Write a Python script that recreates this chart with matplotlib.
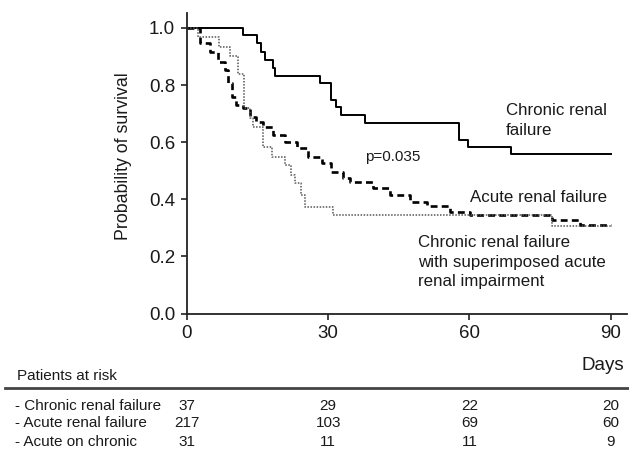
import matplotlib
matplotlib.use("Agg")
import matplotlib.pyplot as plt
from matplotlib.transforms import blended_transform_factory
from matplotlib.lines import Line2D

plt.rcParams['font.family'] = ['Liberation Sans', 'DejaVu Sans']

# ---- data ----
crf_t = [0, 12.0, 14.8, 15.7, 16.5, 18.2, 18.8, 28.2, 30.5, 31.6, 32.8, 37.8, 57.7, 59.8, 68.8, 90]
crf_s = [1.0, 0.975, 0.946, 0.917, 0.888, 0.859, 0.832, 0.806, 0.748, 0.722, 0.695, 0.666, 0.608, 0.582, 0.558, 0.558]

arf_t = [0, 2.7, 4.8, 6.6, 8.0, 8.8, 9.5, 10.5, 12.0, 13.3, 14.7, 16.1, 18.3, 20.8, 23.3, 25.8,
         28.6, 30.7, 33.2, 34.6, 39.6, 43.1, 47.4, 50.9, 55.9, 60.1, 77.6, 83.6, 90]
arf_s = [1.0, 0.946, 0.917, 0.882, 0.853, 0.806, 0.759, 0.730, 0.719, 0.689, 0.672, 0.654, 0.625, 0.602, 0.579, 0.549,
         0.526, 0.497, 0.474, 0.462, 0.438, 0.415, 0.392, 0.377, 0.357, 0.345, 0.327, 0.310, 0.310]

aoc_t = [0, 2.4, 6.9, 9.1, 10.9, 12.1, 13.3, 14.1, 16.1, 18.1, 20.8, 22.2, 22.9, 24.3, 25.0, 31.0, 77.6, 90]
aoc_s = [1.0, 0.968, 0.935, 0.903, 0.839, 0.719, 0.684, 0.652, 0.584, 0.549, 0.520, 0.485, 0.456, 0.415, 0.374, 0.345, 0.306, 0.306]

risk_times = [0, 30, 60, 90]
risk_labels = ["- Chronic renal failure", "- Acute renal failure", "- Acute on chronic"]
risk_crf = [37, 29, 22, 20]
risk_arf = [217, 103, 69, 60]
risk_aoc = [31, 11, 11, 9]

xticks = [0, 30, 60, 90]
yticks = [0.0, 0.2, 0.4, 0.6, 0.8, 1.0]

TXT = '#1a1a1a'
W, H = 629, 451
fig = plt.figure(figsize=(W / 100, H / 100), dpi=100)
ax = fig.add_axes([187 / W, (H - 313.5) / H, 440 / W, 300.5 / H])

ax.step(crf_t, crf_s, where='post', color='black', lw=1.4)
ax.step(arf_t, arf_s, where='post', color='black', lw=1.9, dashes=(2.6, 1.6))
ax.step(aoc_t, aoc_s, where='post', color='#555555', lw=1.1, dashes=(1, 1))

ax.set_xlim(0, 93.5)
ax.set_ylim(0, 1.0525)
ax.set_xticks(xticks)
ax.set_xticklabels([str(v) for v in xticks])
ax.set_yticks(yticks)
ax.set_yticklabels([f"{v:.1f}" for v in yticks])
for s in ['top', 'right']:
    ax.spines[s].set_visible(False)
for s in ['left', 'bottom']:
    ax.spines[s].set_linewidth(1.3)
    ax.spines[s].set_color('#222222')
ax.tick_params(axis='both', direction='out', length=4, width=1.2, labelsize=13.5,
               colors='#222222', labelcolor=TXT, pad=4.5)

# y label placed as in the reference
fig.text(123 / W, 1 - 156 / H, "Probability of survival", fontsize=12.8, color=TXT,
         rotation=90, ha='center', va='center')

ax.text(67.8, 0.676, "Chronic renal\nfailure", fontsize=12.2, color=TXT, va='center', ha='left', linespacing=1.4)
ax.text(37.8, 0.548, "p=0.035", fontsize=11, color=TXT, va='center', ha='left')
ax.text(60.1, 0.408, "Acute renal failure", fontsize=12.2, color=TXT, va='center', ha='left')
ax.text(49.1, 0.18, "Chronic renal failure\nwith superimposed acute\nrenal impairment", fontsize=12.2,
        color=TXT, va='center', ha='left', linespacing=1.4)

# x label "Days"
fig.text(624 / W, 1 - 365 / H, "Days", fontsize=13.5, color=TXT, ha='right', va='center')

# Patients at risk table
fig.text(17 / W, 1 - 375.7 / H, "Patients at risk", fontsize=11, color=TXT, ha='left', va='center')
fig.add_artist(Line2D([5 / W, 1.0], [1 - 388 / H, 1 - 388 / H], transform=fig.transFigure,
                      color='#444444', lw=2.0))
row_y = [405.5, 423.0, 441.7]
trans = blended_transform_factory(ax.transData, fig.transFigure)
for lab, vals, yy in zip(risk_labels, [risk_crf, risk_arf, risk_aoc], row_y):
    fig.text(15 / W, 1 - yy / H, lab, fontsize=11, color=TXT, ha='left', va='center')
    for t, v in zip(risk_times, vals):
        fig.text(t, 1 - yy / H, str(v), fontsize=11, color=TXT, ha='center', va='center', transform=trans)

fig.savefig("out.png", dpi=100)
